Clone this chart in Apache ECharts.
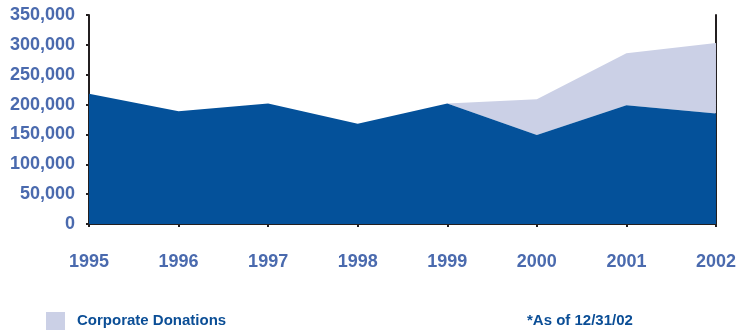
<!DOCTYPE html>
<html>
<head>
<meta charset="utf-8">
<script src="https://cdn.jsdelivr.net/npm/echarts@6/dist/echarts.min.js"></script>
<style>
html,body{margin:0;padding:0;background:#fff;}
#c{width:739px;height:331px;}
</style>
</head>
<body>
<div id="c"></div>
<script>
const years = ['1995','1996','1997','1998','1999','2000','2001','2002'];
const otherDonations = [218000, 189000, 202000, 168000, 202000, 149000, 199000, 185000];
const corporateDonations = [null, null, null, null, 0, 60000, 87000, 118000];
const yTicks = [0, 50000, 100000, 150000, 200000, 250000, 300000, 350000];
const footnote = '*As of 12/31/02';

const labelColor = '#4a6aae';
const axisColor = '#231f20';

const chart = echarts.init(document.getElementById('c'), null, {renderer: 'canvas'});
chart.setOption({
  animation: false,
  backgroundColor: '#ffffff',
  grid: {left: 89, right: 22, top: 15, bottom: 107, containLabel: false},
  legend: {
    data: ['Corporate Donations'],
    left: 46, top: 312, padding: 0,
    icon: 'rect', itemWidth: 19, itemHeight: 18,
    textStyle: {fontFamily: 'Liberation Sans', fontWeight: 'bold', fontSize: 15, color: '#0b4e96', padding: [0,0,0,7]}
  },
  xAxis: {
    type: 'category', data: years, boundaryGap: false,
    axisLine: {show: true, lineStyle: {color: axisColor, width: 2}},
    axisTick: {show: true, length: 3, lineStyle: {color: axisColor, width: 2}},
    axisLabel: {margin: 29, fontFamily: 'Liberation Sans', fontWeight: 'bold', fontSize: 18, color: labelColor},
    splitLine: {show: false}
  },
  yAxis: [{
    type: 'value', min: yTicks[0], max: yTicks[yTicks.length-1], interval: 50000,
    axisLine: {show: true, lineStyle: {color: axisColor, width: 2}},
    axisTick: {show: true, length: 3, lineStyle: {color: axisColor, width: 2}},
    axisLabel: {margin: 14, fontFamily: 'Liberation Sans', fontWeight: 'bold', fontSize: 18, color: labelColor,
      formatter: v => v.toLocaleString('en-US')},
    splitLine: {show: false}
  }, {
    type: 'value', position: 'right', min: yTicks[0], max: yTicks[yTicks.length-1], interval: 50000,
    axisLine: {show: true, lineStyle: {color: axisColor, width: 2}},
    axisTick: {show: false}, axisLabel: {show: false}, splitLine: {show: false}
  }],
  series: [{
    name: 'Other Donations', type: 'line', stack: 'total', data: otherDonations,
    symbol: 'none', lineStyle: {width: 0}, itemStyle: {color: '#04519a'},
    areaStyle: {color: '#04519a', opacity: 1}, z: 3
  }, {
    name: 'Corporate Donations', type: 'line', stack: 'total', data: corporateDonations,
    symbol: 'none', lineStyle: {width: 0}, itemStyle: {color: '#cbd0e6'},
    areaStyle: {color: '#cbd0e6', opacity: 1}, z: 2
  }],
  graphic: [{
    type: 'text', left: 527, top: 313,
    style: {text: footnote, font: 'bold 15px "Liberation Sans"', fill: '#0b4e96'}
  }]
});
</script>
</body>
</html>
